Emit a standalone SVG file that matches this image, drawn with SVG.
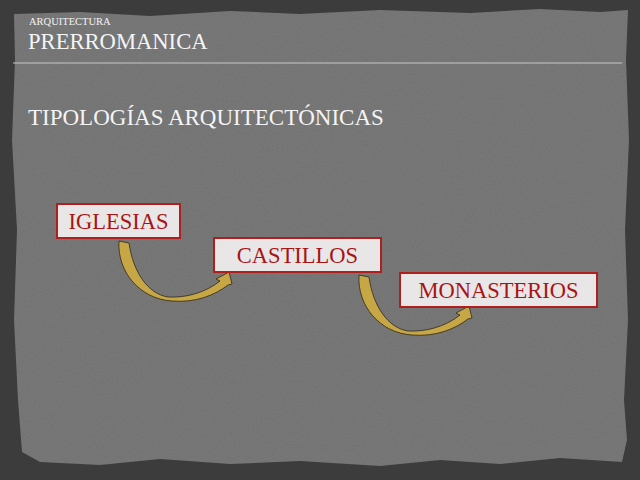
<svg xmlns="http://www.w3.org/2000/svg" width="640" height="480" viewBox="0 0 640 480">
<defs>
<style>
.box{fill:#e8e6e6;stroke:#b01e1e;stroke-width:2}
.lbl{font-family:"Liberation Serif",serif;font-size:22.5px;fill:#a81414;text-anchor:middle}
.hdr{font-family:"Liberation Serif",serif;fill:#f4f4f4}
.arr{fill:#c6a645;stroke:#2e2818;stroke-width:0.8}
</style>
<filter id="tex" x="0" y="0" width="100%" height="100%">
<feTurbulence type="fractalNoise" baseFrequency="0.9" numOctaves="2" seed="3" result="n"/>
<feColorMatrix in="n" type="matrix" values="0 0 0 0 0.5  0 0 0 0 0.5  0 0 0 0 0.5  0 0 0 0.12 0" result="g"/>
<feComposite in="g" in2="SourceGraphic" operator="in" result="gi"/>
<feMerge><feMergeNode in="SourceGraphic"/><feMergeNode in="gi"/></feMerge>
</filter>
</defs>
<rect width="640" height="480" fill="#3c3c3c"/>
<path id="panel" filter="url(#tex)" fill="#6f6f6f" d="M14,14 L80,12 L150,16 L230,11 L300,14 L380,10 L470,13 L540,9 L600,12 L628,10 L626,60 L629,140 L625,230 L628,320 L624,400 L627,440 L622,462 L560,458 L500,464 L440,460 L380,466 L300,461 L230,464 L160,459 L100,465 L40,462 L22,452 L18,400 L14,320 L17,230 L12,140 L15,60 Z"/>
<g id="header">
<text class="hdr" x="29" y="25" font-size="10.5">ARQUITECTURA</text>
<text class="hdr" x="28" y="49" font-size="22.6">PRERROMANICA</text>
<line x1="13" y1="63" x2="622" y2="63" stroke="#c8c8c8" stroke-width="1.2"/>
<text class="hdr" x="28" y="125" font-size="23">TIPOLOGÍAS ARQUITECTÓNICAS</text>
</g>
<g id="connectors">
<path class="arr" d="M119,241 C117,272 140,299 172,301 C196,303 215,295 228,285 L232,284 L229,272 L216,279 L220,281 C205,293 185,298 168,297 C148,294 133,272 129,243 Z"/>
<path class="arr" transform="translate(240,34)" d="M119,241 C117,272 140,299 172,301 C196,303 215,295 228,285 L232,284 L229,272 L216,279 L220,281 C205,293 185,298 168,297 C148,294 133,272 129,243 Z"/>
</g>
<g id="iglesias">
<rect class="box" x="57" y="204" width="123" height="34"/>
<text class="lbl" x="118.5" y="229">IGLESIAS</text>
</g>
<g id="castillos">
<rect class="box" x="214" y="238" width="167" height="34"/>
<text class="lbl" x="297.5" y="263">CASTILLOS</text>
</g>
<g id="monasterios">
<rect class="box" x="400" y="273" width="197" height="34"/>
<text class="lbl" x="498.5" y="298">MONASTERIOS</text>
</g>
</svg>
